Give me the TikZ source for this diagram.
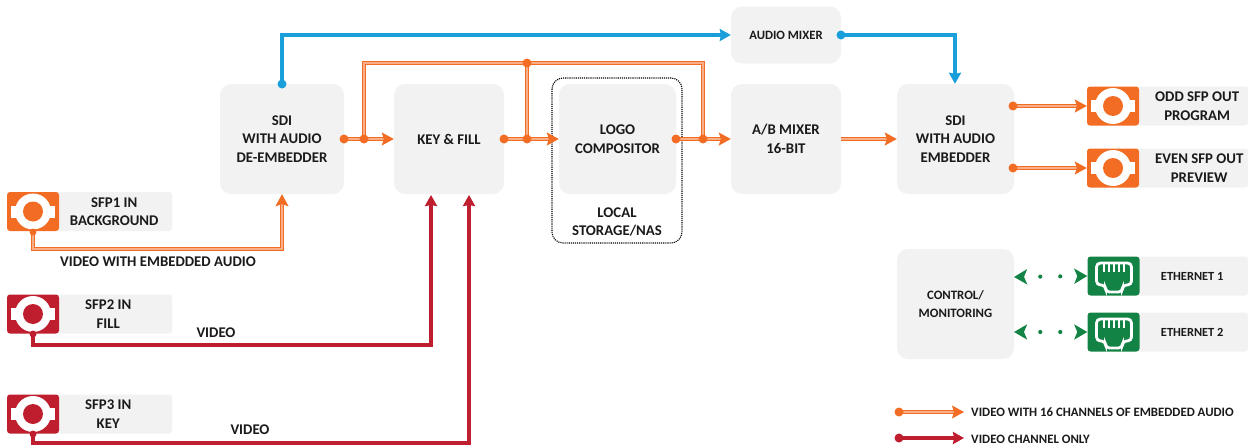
\documentclass[tikz,border=0pt]{standalone}
\usepackage{fontspec}
\setmainfont{Carlito}
\usetikzlibrary{arrows.meta}
\definecolor{sfporange}{HTML}{F36C24}
\definecolor{sfpred}{HTML}{BE1E2D}
\definecolor{audioblue}{HTML}{1B9FDB}
\definecolor{langreen}{HTML}{138345}
\definecolor{boxgrey}{HTML}{F2F2F2}
\definecolor{inktext}{HTML}{1A1A1A}
\tikzset{
  block/.style={fill=boxgrey, rounded corners=11pt, inner sep=0pt, align=center, text=inktext,
    font=\fontsize{14.8}{18.5}\selectfont\bfseries},
  tag/.style={fill=boxgrey, rounded corners=3pt, inner sep=0pt, align=center, text=inktext,
    font=\fontsize{14.8}{18.5}\selectfont\bfseries},
  caption/.style={inner sep=0pt, text=inktext, font=\fontsize{14.8}{18.5}\selectfont\bfseries},
  legendtext/.style={inner sep=0pt, anchor=west, text=inktext, font=\fontsize{12.8}{14}\selectfont\bfseries},
  port/.style={rounded corners=3pt, inner sep=0pt, minimum width=52pt, minimum height=39pt},
  orangebus/.style={draw=sfporange, double=sfporange!55, line width=1.3pt, double distance=1.3pt},
  orangewire/.style={orangebus, -{Stealth[inset=2pt,length=12pt,width=13pt]}},
  redwire/.style={draw=sfpred, line width=3.2pt, -{Stealth[inset=1pt,length=11pt,width=12pt]}},
  bluewire/.style={draw=audioblue, line width=3.2pt, -{Stealth[inset=1pt,length=11pt,width=12pt]}},
  lanlink/.style={draw=langreen, line width=4.2pt, line cap=round, dash pattern=on 0pt off 20pt, dash phase=3pt,
    {Stealth[inset=3pt,length=13pt,width=15pt]}-{Stealth[inset=3pt,length=13pt,width=15pt]}},
}
% sfp connector face, #1 name #2 colour #3 x #4 y
\newcommand{\sfpport}[4]{
  \node[port, fill=#2] (#1) at (#3,#4) {};
  \fill[white] (#3-22,#4-6) rectangle (#3+22,#4+6);
  \fill[white] (#3,#4) circle (18);
  \fill[#2] (#3,#4) circle (10);
}
% rj45 face, #1 name #2 x #3 y
\newcommand{\lanport}[3]{
  \node[port, fill=langreen] (#1) at (#2,#3) {};
  \draw[white, line width=2.8pt, rounded corners=4pt] (#2-17,#3-13) -- (#2+18,#3-13) -- (#2+18,#3+9) -- (#2+9,#3+9)
    -- (#2+9,#3+16) -- (#2-8,#3+16) -- (#2-8,#3+9) -- (#2-17,#3+9) -- cycle;
  \foreach \pin in {-10,-5,0,5,10}
    \draw[white, line width=2pt] (#2+\pin,#3-13) -- (#2+\pin,#3-4);
}
\begin{document}
\begin{tikzpicture}[x=1pt,y=-1pt]
\useasboundingbox (0,0) rectangle (1248,447);
% main blocks
\node[block, minimum width=124pt, minimum height=110pt] (deembed) at (282,139) {SDI\\WITH AUDIO\\DE-EMBEDDER};
\node[block, minimum width=110pt, minimum height=110pt] (keyfill) at (449,139) {KEY \& FILL};
\node[block, minimum width=117pt, minimum height=110pt] (logo) at (617.5,139) {LOGO\\COMPOSITOR};
\node[block, minimum width=110pt, minimum height=110pt] (abmix) at (786,139) {A/B MIXER\\16-BIT};
\node[block, minimum width=117pt, minimum height=110pt] (embed) at (955.5,139) {SDI\\WITH AUDIO\\EMBEDDER};
\node[block, minimum width=110pt, minimum height=57pt, font=\fontsize{12.7}{14}\selectfont\bfseries] (audiomix) at (786,35) {AUDIO MIXER};
\node[block, minimum width=117pt, minimum height=110pt, font=\fontsize{12.8}{18}\selectfont\bfseries] (control) at (955.5,304) {CONTROL/\\MONITORING};
\node[caption, align=center] (storage) at (617,222) {LOCAL\\STORAGE/NAS};
\draw[densely dotted, line width=1.1pt, rounded corners=11pt] (552,78) rectangle (682,243);
% input tags
\node[tag, minimum width=116pt, minimum height=39pt, anchor=west] (tagone) at (56,211.5) {SFP1 IN\\BACKGROUND};
\node[tag, minimum width=116pt, minimum height=39pt, anchor=west] (tagtwo) at (56,314) {\hspace*{-12pt}SFP2 IN\\\hspace*{-12pt}FILL};
\node[tag, minimum width=116pt, minimum height=39pt, anchor=west] (tagthree) at (56,414) {\hspace*{-12pt}SFP3 IN\\\hspace*{-12pt}KEY};
\sfpport{sfpone}{sfporange}{33}{211.5}
\sfpport{sfptwo}{sfpred}{33}{314}
\sfpport{sfpthree}{sfpred}{33}{414}
% output tags
\node[tag, minimum width=112pt, minimum height=39pt, anchor=west] (tagodd) at (1136,106) {\hspace*{10pt}ODD SFP OUT\\\hspace*{10pt}PROGRAM};
\node[tag, minimum width=112pt, minimum height=39pt, anchor=west] (tageven) at (1136,168) {\hspace*{14pt}EVEN SFP OUT\\\hspace*{14pt}PREVIEW};
\sfpport{sfpodd}{sfporange}{1113}{106}
\sfpport{sfpeven}{sfporange}{1113}{168}
\node[tag, minimum width=112pt, minimum height=39pt, anchor=west, font=\fontsize{12.4}{14}\selectfont\bfseries] (taglanone) at (1136,276) {ETHERNET 1};
\node[tag, minimum width=112pt, minimum height=39pt, anchor=west, font=\fontsize{12.4}{14}\selectfont\bfseries] (taglantwo) at (1136,332) {ETHERNET 2};
\lanport{lanone}{1113.5}{276}
\lanport{lantwo}{1113.5}{332}
% hubs
\coordinate (deout) at (344,139);
\coordinate (debranch) at (364,139);
\coordinate (busleft) at (364,63);
\coordinate (bustop) at (527,63);
\coordinate (busright) at (703,63);
\coordinate (keyout) at (504,139);
\coordinate (keybranch) at (527,139);
\coordinate (logoout) at (676,139);
\coordinate (logobranch) at (703,139);
\coordinate (oddout) at (1013,106);
\coordinate (evenout) at (1013,168);
\coordinate (deaudio) at (282,84);
\coordinate (mixcorner) at (282,35);
\coordinate (mixout) at (841,35);
\coordinate (mixdown) at (955,35);
% orange paths
\draw[orangebus] (debranch) -- (busleft) -- (busright) -- (logobranch);
\draw[orangebus] (bustop) -- (keybranch);
\draw[orangewire] (deout) -- (keyfill.west);
\draw[orangewire] (keyout) -- (logo.west);
\draw[orangewire] (logoout) -- (abmix.west);
\draw[orangewire] (abmix.east) -- (embed.west);
\draw[orangewire] (oddout) -- (sfpodd.west);
\draw[orangewire] (evenout) -- (sfpeven.west);
\draw[orangewire] (sfpone.south) |- (282,249) -- (deembed.south);
% red paths
\draw[redwire] (sfptwo.south) |- (431,345) -- (431,195);
\draw[redwire] (sfpthree.south) |- (469,443) -- (469,195);
% blue paths
\draw[bluewire] (deaudio) -- (mixcorner) -- (audiomix.west);
\draw[bluewire] (mixout) -- (mixdown) -- (embed.north -| mixdown);
% ethernet links
\draw[lanlink] (1014,277) -- (lanone.west);
\draw[lanlink] (1014,332) -- (lantwo.west);
% dots
\foreach \dotname in {deout,debranch,bustop,keyout,keybranch,logoout,logobranch,oddout,evenout}
  \fill[sfporange] (\dotname) circle (4.5);
\fill[audioblue] (deaudio) circle (4.5);
\fill[audioblue] (mixout) circle (4.5);
\fill[sfporange] (33,232) circle (3.5);
\fill[sfpred] (33,334) circle (3.5);
\fill[sfpred] (33,434) circle (3.5);
% labels
\node[caption] (vidaudio) at (158,262) {VIDEO WITH EMBEDDED AUDIO};
\node[caption] (vidfill) at (216,332.5) {VIDEO};
\node[caption] (vidkey) at (250,429.5) {VIDEO};
% legend
\coordinate (legorange) at (899,412);
\coordinate (legorangeend) at (964,412);
\coordinate (legred) at (899,438);
\coordinate (legredend) at (964,438);
\draw[orangewire] (legorange) -- (legorangeend);
\draw[redwire] (legred) -- (legredend);
\fill[sfporange] (legorange) circle (4.5);
\fill[sfpred] (legred) circle (4.5);
\node[legendtext] (legvideoaudio) at (971,412) {VIDEO WITH 16 CHANNELS OF EMBEDDED AUDIO};
\node[legendtext] (legvideo) at (971,439) {VIDEO CHANNEL ONLY};
\end{tikzpicture}
\end{document}
